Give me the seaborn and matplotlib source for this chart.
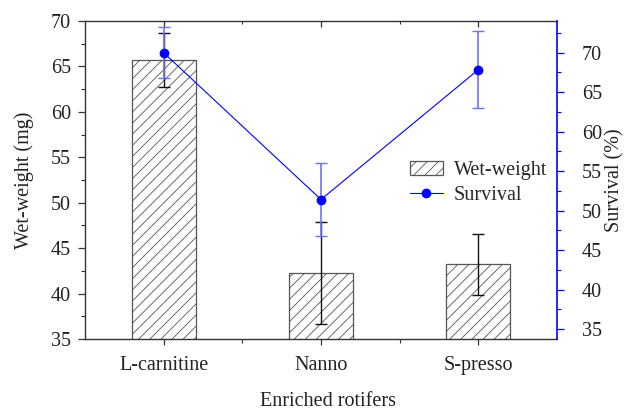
import matplotlib
matplotlib.use("Agg")
import matplotlib.pyplot as plt
from matplotlib.patches import Patch
from matplotlib.lines import Line2D
from matplotlib.ticker import MultipleLocator, FixedLocator
import seaborn as sns
import pandas as pd

categories = ["L-carnitine", "Nanno", "S-presso"]
wet_weight = [65.7, 42.3, 43.2]
wet_weight_err = [3.0, 5.6, 3.35]
survival = [70.0, 51.4, 67.85]
survival_err = [3.2, 4.6, 4.85]

sns.set_theme(style="white")
plt.rcParams["font.family"] = ["Liberation Serif", "DejaVu Serif"]
plt.rcParams["hatch.linewidth"] = 0.6
plt.rcParams["hatch.color"] = "#555555"

FS = 14.5
TXT = "#222222"
BLUE = "#0000ff"

df = pd.DataFrame({"cat": categories, "wet": wet_weight, "surv": survival})

fig = plt.figure(figsize=(6.24, 4.08), dpi=100)
ax = fig.add_axes([85 / 624, 1 - 339 / 408, 472 / 624, 318 / 408])

sns.barplot(data=df, x="cat", y="wet", ax=ax, width=0.405, color="white",
            edgecolor="#555555", linewidth=0.9, hatch="///", errorbar=None, zorder=2)
ax.errorbar(range(len(categories)), wet_weight, yerr=wet_weight_err, fmt="none",
            ecolor="#111111", elinewidth=1.0, capsize=4.5, capthick=1.0, zorder=3)

ax.set_xlim(-0.5, 2.5)
ax.set_ylim(35, 70)
ax.yaxis.set_major_locator(MultipleLocator(5))
ax.yaxis.set_minor_locator(MultipleLocator(2.5))
ax.xaxis.set_minor_locator(FixedLocator([0.5, 1.5]))
ax.tick_params(axis="y", which="major", direction="out", length=5, width=0.9,
               colors="#333333", labelcolor=TXT, labelsize=FS, pad=5, left=True)
ax.tick_params(axis="y", which="minor", direction="out", length=2.8, width=0.8,
               colors="#333333", left=True)
ax.tick_params(axis="x", which="major", direction="out", length=4.5, width=0.9,
               colors="#333333", labelcolor=TXT, labelsize=FS, pad=7.5, bottom=True,
               top=True)
ax.tick_params(axis="x", which="minor", direction="out", length=3, width=0.8,
               colors="#333333", bottom=True, top=True)
# top ticks point inward
for t in ax.xaxis.get_major_ticks():
    t.tick2line.set_marker(3)
    t.tick2line.set_markersize(4)
for t in ax.xaxis.get_minor_ticks():
    t.tick2line.set_marker(3)
    t.tick2line.set_markersize(2.5)

for s in ["left", "bottom", "top"]:
    ax.spines[s].set_color("#333333")
    ax.spines[s].set_linewidth(1.0)
ax.spines["right"].set_visible(False)

ax.set_ylabel("Wet-weight (mg)", fontsize=FS, color=TXT)
ax.yaxis.set_label_coords(-0.108, 0.5)
ax.set_xlabel("Enriched rotifers", fontsize=FS, color=TXT)
ax.xaxis.set_label_coords(0.515, -0.168)

ax2 = ax.twinx()
ax2.plot(range(len(categories)), survival, color=BLUE, lw=0.8, marker="o",
         markersize=6, zorder=4)
ax2.errorbar(range(len(categories)), survival, yerr=survival_err, fmt="none",
             ecolor="#6f6fff", elinewidth=1.2, capsize=4, capthick=1.0, zorder=3)
ax2.set_xlim(-0.5, 2.5)
ax2.set_ylim(33.73, 74.02)
ax2.yaxis.set_major_locator(MultipleLocator(5))
ax2.yaxis.set_minor_locator(MultipleLocator(2.5))
ax2.tick_params(axis="y", which="major", direction="out", length=5, width=0.9,
                colors=BLUE, labelcolor=TXT, labelsize=FS, pad=13, right=True)
ax2.tick_params(axis="y", which="minor", direction="out", length=3, width=0.8,
                colors=BLUE, right=True)
for s in ["left", "bottom", "top"]:
    ax2.spines[s].set_visible(False)
ax2.spines["right"].set_color(BLUE)
ax2.spines["right"].set_linewidth(1.2)
ax2.set_ylabel("Survival (%)", fontsize=FS, color=TXT)
ax2.yaxis.set_label_coords(1.103, 0.5)

handles = [
    Patch(facecolor="white", edgecolor="#555555", hatch="///", linewidth=0.9),
    Line2D([0], [0], color=BLUE, lw=0.8, marker="o", markersize=6),
]
ax2.legend(handles, ["Wet-weight", "Survival"], loc="upper left",
           bbox_to_anchor=(0.688, 0.559), frameon=False, fontsize=FS,
           handlelength=1.65, handletextpad=0.55, labelspacing=0.3,
           borderaxespad=0, borderpad=0)

fig.savefig("out.png", dpi=100)
